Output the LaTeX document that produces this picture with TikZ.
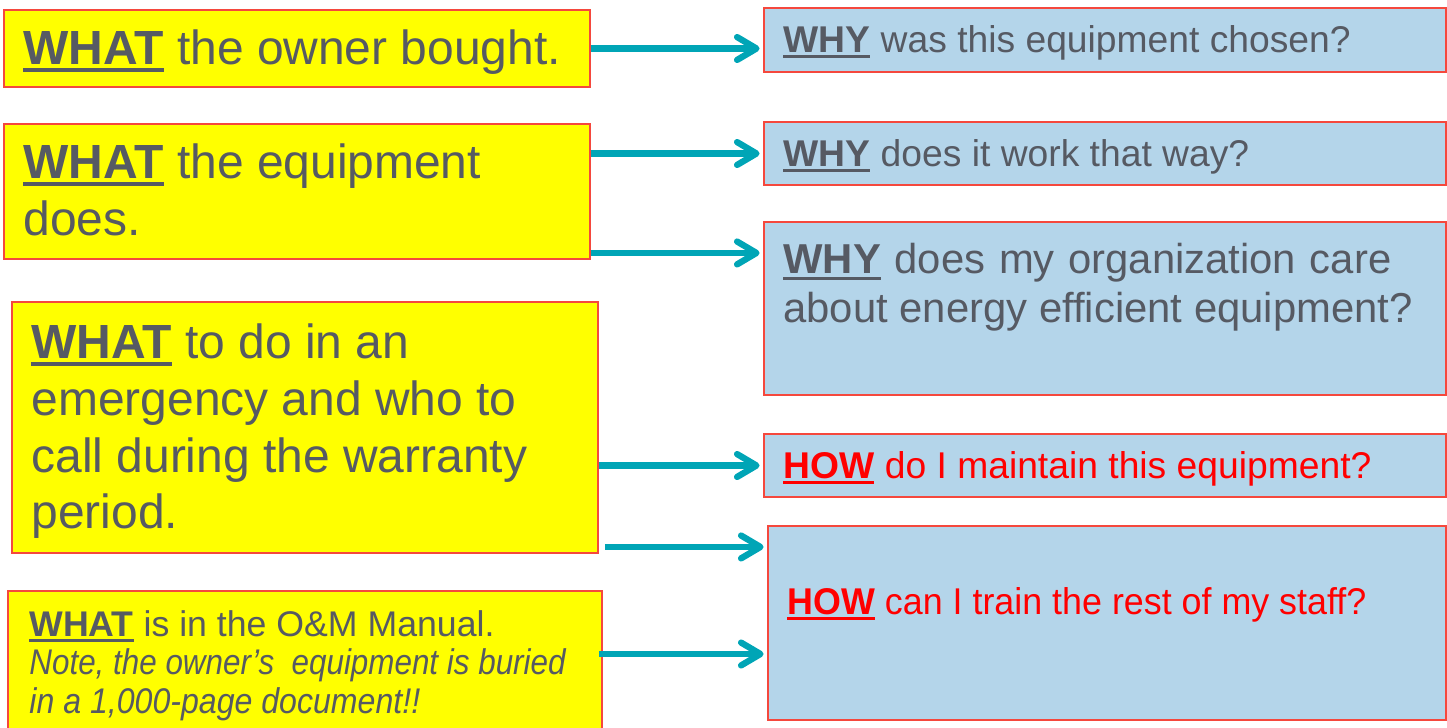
\documentclass[tikz,border=0pt]{standalone}
\usepackage{fontspec}
\setmainfont{Liberation Sans}
\usepackage{xcolor}
\usepackage{graphicx}
\usetikzlibrary{positioning,arrows.meta,calc}
\definecolor{whatyellow}{HTML}{FFFF00}
\definecolor{whyblue}{HTML}{B4D5EA}
\definecolor{edgered}{HTML}{F5483D}
\definecolor{arrowteal}{HTML}{00A5B6}
\definecolor{inkgrey}{HTML}{565A63}
\definecolor{howred}{HTML}{FF0000}
\newsavebox{\kwbox}
\newcommand{\keyword}[1]{\leavevmode\sbox{\kwbox}{\bfseries #1}\rlap{\rule[-0.16em]{\wd\kwbox}{0.08em}}\usebox{\kwbox}}
\newcommand{\narrow}[2]{\scalebox{#1}[1]{#2}}
\newcommand{\whatsize}{\fontsize{27.3pt}{32.4pt}\selectfont}
\newcommand{\notesize}{\fontsize{20.3pt}{21.9pt}\selectfont}
\newcommand{\whysize}{\fontsize{21.2pt}{25pt}\selectfont}
\newcommand{\caresize}{\fontsize{23.8pt}{27.9pt}\selectfont}

\begin{document}
\begin{tikzpicture}[x=0.02cm, y=-0.02cm,
    whatbox/.style={draw=edgered, line width=1.1pt, fill=whatyellow, rectangle, inner sep=0pt},
    whybox/.style={draw=edgered, line width=1.1pt, fill=whyblue, rectangle, inner sep=0pt},
    words/.style={anchor=north west, inner sep=0pt, align=left, text=inkgrey},
    flow/.style={-{Straight Barb[length=11pt,width=13pt,round]}, line width=3.6pt, arrowteal, shorten >=2pt}]
    \useasboundingbox (0,0) rectangle (1447,727);

    % WHAT boxes (left)
    \node[whatbox, minimum width=11.72cm, minimum height=1.54cm] (own) at (297,48.5) {};
    \node[whatbox, minimum width=11.72cm, minimum height=2.70cm] (does) at (297,191.5) {};
    \node[whatbox, minimum width=11.72cm, minimum height=5.02cm] (emer) at (305,427.5) {};
    \node[whatbox, minimum width=11.88cm, minimum height=2.88cm] (manual) at (305,663) {};

    % WHY / HOW boxes (right)
    \node[whybox, minimum width=13.64cm, minimum height=1.28cm] (chosen) at (1105,40) {};
    \node[whybox, minimum width=13.64cm, minimum height=1.26cm] (works) at (1105,153.5) {};
    \node[whybox, minimum width=13.64cm, minimum height=3.46cm] (care) at (1105,308.5) {};
    \node[whybox, minimum width=13.64cm, minimum height=1.26cm] (maint) at (1105,465.5) {};
    \node[whybox, minimum width=13.56cm, minimum height=3.88cm] (train) at (1107,623) {};

    % Texts
    \node[words, font=\whatsize] (ownText) at ([shift={(20,20)}]own.north west) {\keyword{WHAT} the owner bought.};
    \node[words, font=\whatsize] (doesText) at ([shift={(20,20)}]does.north west) {\keyword{WHAT} the equipment\\does.};
    \node[words, font=\whatsize] (emerText) at ([shift={(20,22)}]emer.north west) {\keyword{WHAT} to do in an\\emergency and who to\\call during the warranty\\period.};
    \node[words, font=\notesize] (manualText) at ([shift={(22,20)}]manual.north west) {\keyword{WHAT} is in the O\&M Manual.\\\narrow{0.88}{\textit{Note, the owner’s~ equipment is buried}}\\\narrow{0.9}{\textit{in a 1,000-page document!!}}};
    \node[words, font=\whysize] (chosenText) at ([shift={(20,18)}]chosen.north west) {\keyword{WHY} was this equipment chosen?};
    \node[words, font=\whysize] (worksText) at ([shift={(20,18)}]works.north west) {\keyword{WHY} does it work that way?};
    \node[words, font=\caresize] (careText) at ([shift={(20,22)}]care.north west) {\makebox[346pt][s]{\keyword{WHY} does my organization care}\\about energy efficient equipment?};
    \node[words, font=\whysize, text=howred] (maintText) at ([shift={(20,18)}]maint.north west) {\keyword{HOW} do I maintain this equipment?};
    \node[words, font=\whysize, text=howred] (trainText) at ([shift={(20,62)}]train.north west) {\narrow{0.962}{\keyword{HOW} can I train the rest of my staff?}};

    % Arrows
    \coordinate (doesLow) at ($(does.south east)+(0,-7)$);
    \coordinate (emerLow) at ($(emer.south east)+(6,-7)$);
    \coordinate (manualOut) at ($(manual.east)+(-4,-9)$);
    \draw[flow] (own.east) -- (own.east -| chosen.west);
    \draw[flow] (does.east |- works.west) -- (works.west);
    \draw[flow] (doesLow) -- (doesLow -| care.west);
    \draw[flow] (emer.east |- maint.west) -- (maint.west);
    \draw[flow] (emerLow) -- (emerLow -| train.west);
    \draw[flow] (manualOut) -- (manualOut -| train.west);
\end{tikzpicture}
\end{document}
